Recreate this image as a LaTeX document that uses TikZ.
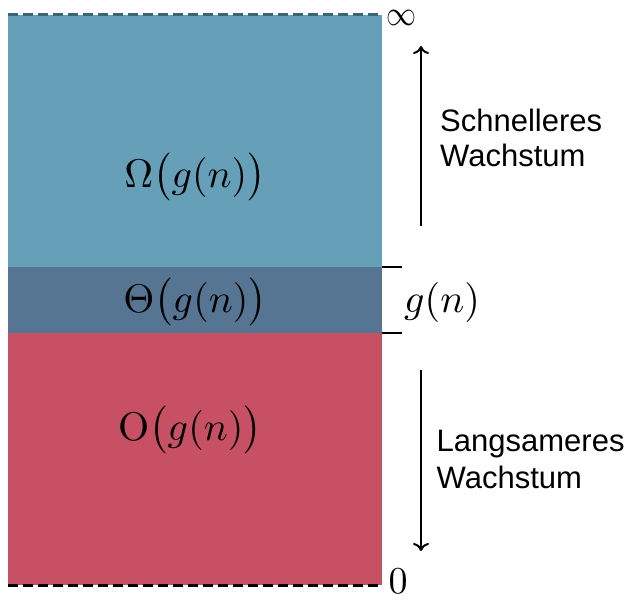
\documentclass[tikz,border=0pt]{standalone}
\usepackage{amsmath}
\usepackage{graphicx}
\usepackage{fontspec}
\setsansfont{Liberation Sans}
\definecolor{omegablue}{HTML}{669FB8}
\definecolor{thetablue}{HTML}{567592}
\definecolor{ored}{HTML}{C85064}
\definecolor{topdash}{HTML}{3A6478}
\newcommand{\bigmath}[1]{\scalebox{4}{$#1$}}
\tikzset{
  mathlabel/.style={inner sep=0pt},
  sidetext/.style={inner sep=0pt, anchor=base west, font=\sffamily\fontsize{31}{38}\selectfont},
  growarrow/.style={line width=2pt, -{To[length=8pt,width=16pt]}},
  tick/.style={line width=2pt},
  dashline/.style={line width=3pt, dash pattern=on 10pt off 5pt}
}
\usetikzlibrary{arrows.meta}
\begin{document}
\begin{tikzpicture}[x=1pt,y=-1pt]
\useasboundingbox (0,0) rectangle (638,602);
% bands
\fill[omegablue] (8,15) rectangle (382,267);
\fill[thetablue] (8,267) rectangle (382,333);
\fill[ored] (8,333) rectangle (382,585);
\draw[dashline, draw=topdash] (8,15) -- (382,15);
\draw[dashline, draw=black] (8,585) -- (382,585);
% ticks
\coordinate (t1a) at (382,267); \coordinate (t1b) at (402,267);
\coordinate (t2a) at (382,333); \coordinate (t2b) at (402,333);
\draw[tick] (t1a) -- (t1b);
\draw[tick] (t2a) -- (t2b);
% labels in bands
\node[mathlabel] (om) at (195,177) {\bigmath{\Omega\bigl(g(n)\bigr)}};
\node[mathlabel] (th) at (195,302) {\bigmath{\Theta\bigl(g(n)\bigr)}};
\node[mathlabel] (oo) at (190,430) {\bigmath{\mathrm{O}\bigl(g(n)\bigr)}};
% side labels
\node[mathlabel, anchor=west] (gn) at (404,302) {\bigmath{g(n)}};
\node[mathlabel] (inf) at (401.7,18) {\scalebox{3}[3.5]{$\infty$}};
\node[mathlabel, anchor=north] (zero) at (398,569) {\scalebox{3.8}{$0$}};
% arrows
\coordinate (up0) at (421,226);
\coordinate (up1) at (421,46);
\coordinate (dn0) at (421,370);
\coordinate (dn1) at (421,551);
\draw[growarrow] (up0) -- (up1);
\draw[growarrow] (dn0) -- (dn1);
% texts
\node[sidetext] (s1) at (440,131.7) {Schnelleres};
\node[sidetext] (s2) at (440,167) {Wachstum};
\node[sidetext] (l1) at (436.5,451.7) {Langsameres};
\node[sidetext] (l2) at (436.5,488) {Wachstum};
\end{tikzpicture}
\end{document}
